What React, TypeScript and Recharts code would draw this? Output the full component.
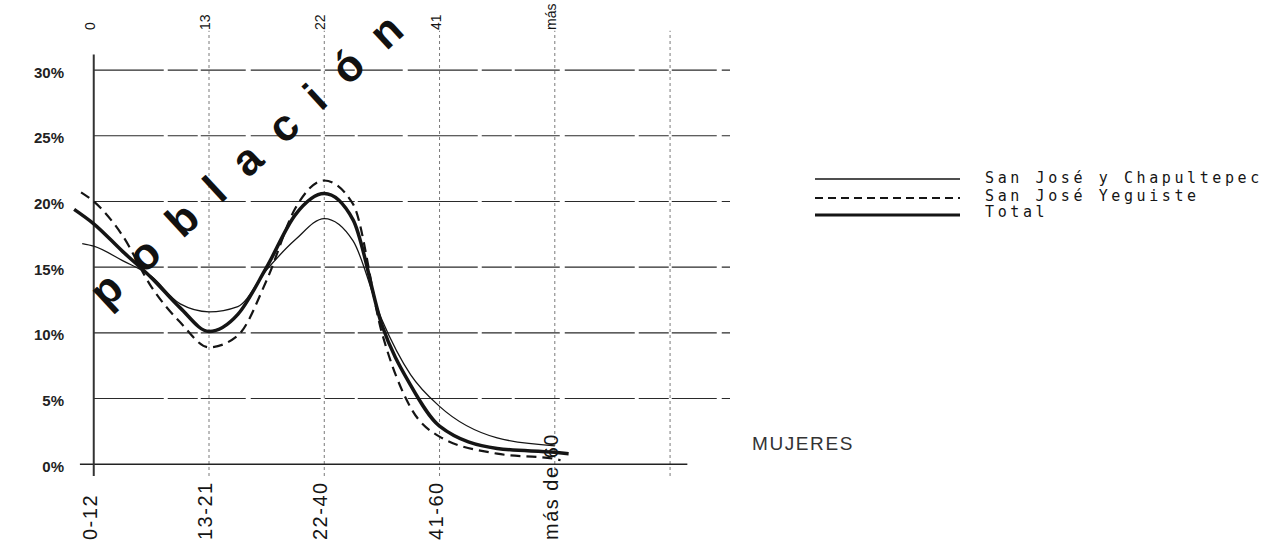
import { LineChart, Line, XAxis, YAxis, ReferenceLine } from "recharts"

// age groups
const categories = ["0-12", "13-21", "22-40", "41-60", "más de 60"]
// what is left visible of the upper copy of the labels
const topLabels = ["0", "13", "22", "41", "más"]
const yTicks = [0, 5, 10, 15, 20, 25, 30]

// Total (thick line)
const totalX = [-0.17, 0, 0.25, 0.5, 0.75, 1, 1.25, 1.5, 1.75, 2, 2.25, 2.5, 2.75, 3, 3.5, 4, 4.12]
const totalY = [19.4, 18.3, 16.2, 14.2, 11.9, 10.1, 11.4, 15.0, 19.0, 20.6, 18.6, 10.6, 6.0, 2.9, 1.2, 0.9, 0.8]

// San José y Chapultepec (thin line)
const chapX = [-0.1, 0, 0.25, 0.5, 0.75, 1, 1.25, 1.5, 1.75, 2, 2.25, 2.5, 2.75, 3, 3.5, 4]
const chapY = [16.8, 16.6, 15.5, 14.3, 12.2, 11.6, 12.0, 14.8, 17.1, 18.7, 17.0, 11.0, 6.8, 4.4, 2.0, 1.4]

// San José Yeguiste (dashed line)
const yegX = [-0.11, 0, 0.25, 0.5, 0.75, 1, 1.25, 1.5, 1.75, 2, 2.25, 2.5, 2.75, 3, 3.5, 4, 4.05]
const yegY = [20.7, 20.0, 17.4, 13.5, 10.8, 8.9, 9.8, 14.0, 19.5, 21.6, 19.8, 10.0, 4.3, 2.1, 0.8, 0.4, 0.3]

const watermark = "población"

const toPoints = (xs: number[], ys: number[]) => xs.map((x, i) => ({ x, v: ys[i] }))

const ink = "#151515"
const sans = "'Liberation Sans', Arial, sans-serif"
const legendFont = "'DejaVu Sans Mono', monospace"

function BottomTick({ x, y, payload }: any) {
  const yy = y + 56
  return (
    <text x={x - 4} y={yy} transform={`rotate(-90 ${x - 4} ${yy})`} textAnchor="start" dominantBaseline="central"
      fontFamily={sans} fontSize={20} letterSpacing={1.5} fill={ink}>
      {categories[payload.value]}
    </text>
  )
}

function TopTick({ x, payload }: any) {
  const yy = 30
  return (
    <text x={x - 4} y={yy} transform={`rotate(-90 ${x - 4} ${yy})`} textAnchor="start" dominantBaseline="central"
      fontFamily={sans} fontSize={14} fill={ink}>
      {topLabels[payload.value]}
    </text>
  )
}

function LeftTick({ x, y, payload }: any) {
  return (
    <text x={x} y={y + 2} textAnchor="end" dominantBaseline="central"
      fontFamily={sans} fontSize={15} fontWeight="bold" fill="#222">
      {payload.value}%
    </text>
  )
}

export default function App() {
  return (
    <div style={{ position: "absolute", left: 0, top: 0, width: 1283, height: 556, background: "#fff" }}>
      <LineChart width={1283} height={556} margin={{ top: 0, right: 553, bottom: 0, left: 0 }}>
        <XAxis dataKey="x" type="number" domain={[-0.18, 5.52]} ticks={[0, 1, 2, 3, 4]}
          allowDataOverflow height={80} axisLine={false} tickLine={false} tick={<BottomTick />} />
        <XAxis xAxisId="top" orientation="top" dataKey="x" type="number" domain={[-0.18, 5.52]}
          ticks={[0, 1, 2, 3, 4]} allowDataOverflow height={36} axisLine={false} tickLine={false} tick={<TopTick />} />
        <YAxis type="number" domain={[-0.9, 32.6]} ticks={yTicks} allowDataOverflow width={73}
          axisLine={false} tickLine={false} tickSize={7} tickMargin={2} tick={<LeftTick />} />

        {/* horizontal grid */}
        {yTicks.slice(1).map((t) => (
          <ReferenceLine key={"h" + t} segment={[{ x: 0, y: t }, { x: 5.52, y: t }]} ifOverflow="visible"
            stroke="#2a2a2a" strokeWidth={1.1} strokeDasharray="70 4 30 3 45 5" />
        ))}
        {/* vertical grid */}
        {[1, 2, 3, 4, 5].map((t) => (
          <ReferenceLine key={"v" + t} segment={[{ x: t, y: -0.9 }, { x: t, y: 33 }]} ifOverflow="visible"
            stroke="#7a7a7a" strokeWidth={1} strokeDasharray="3 3" />
        ))}
        <ReferenceLine segment={[{ x: -0.12, y: 0 }, { x: 5.15, y: 0 }]} ifOverflow="visible" stroke="#222" strokeWidth={1.5} />
        <ReferenceLine segment={[{ x: 0, y: -0.9 }, { x: 0, y: 31.2 }]} ifOverflow="visible" stroke="#333" strokeWidth={2} />

        <Line data={toPoints(chapX, chapY)} dataKey="v" type="monotone" stroke={ink} strokeWidth={1.3}
          dot={false} activeDot={false} isAnimationActive={false} />
        <Line data={toPoints(yegX, yegY)} dataKey="v" type="monotone" stroke={ink} strokeWidth={2.2}
          strokeDasharray="10 6" dot={false} activeDot={false} isAnimationActive={false} />
        <Line data={toPoints(totalX, totalY)} dataKey="v" type="monotone" stroke={ink} strokeWidth={3.5}
          dot={false} activeDot={false} isAnimationActive={false} />
      </LineChart>

      <svg width={1283} height={556} style={{ position: "absolute", left: 0, top: 0, pointerEvents: "none" }}>
        {/* watermark, spaced letter by letter */}
        <text x={98} y={301} transform="rotate(-42.7 98 301)" dominantBaseline="middle"
          fontFamily={sans} fontWeight="bold" fontSize={44} fill="#111">
          {watermark.split("").map((ch, i) => (
            <tspan key={i} dx={i === 0 ? 0 : 25}>{ch}</tspan>
          ))}
        </text>

        {/* legend */}
        <line x1={815} x2={960} y1={179} y2={179} stroke={ink} strokeWidth={1.3} />
        <text x={985} y={178} dominantBaseline="central" fontFamily={legendFont} fontSize={15} letterSpacing={3.6} fill={ink}>
          San José y Chapultepec
        </text>
        <line x1={815} x2={960} y1={198} y2={198} stroke={ink} strokeWidth={1.8} strokeDasharray="8 5" />
        <text x={985} y={196} dominantBaseline="central" fontFamily={legendFont} fontSize={15} letterSpacing={3.6} fill={ink}>
          San José Yeguiste
        </text>
        <line x1={815} x2={960} y1={215} y2={215} stroke={ink} strokeWidth={3.2} />
        <text x={985} y={212} dominantBaseline="central" fontFamily={legendFont} fontSize={15} letterSpacing={3.6} fill={ink}>
          Total
        </text>

        <text x={752} y={443} dominantBaseline="central" fontFamily={sans} fontSize={19} letterSpacing={1.6} fill="#333">
          MUJERES
        </text>
      </svg>
    </div>
  )
}
